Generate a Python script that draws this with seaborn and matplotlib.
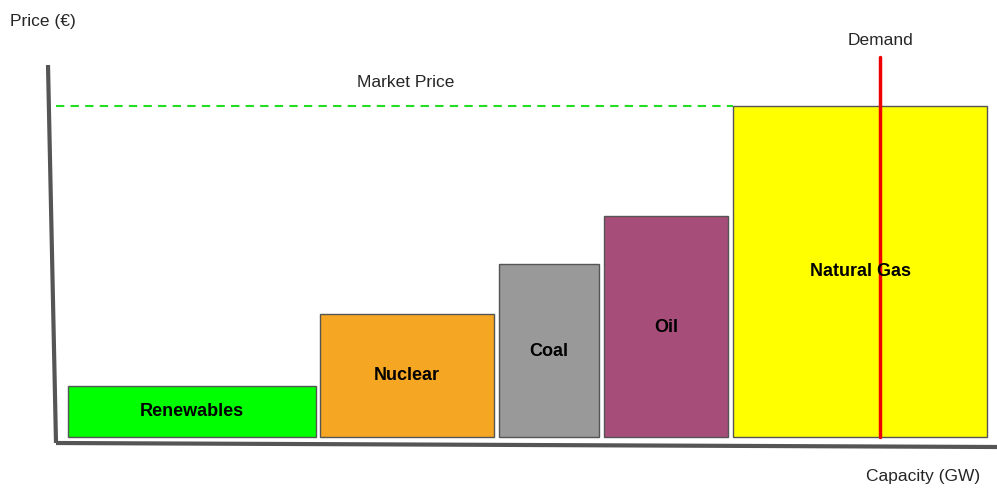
import matplotlib
matplotlib.use("Agg")
import matplotlib.pyplot as plt
import seaborn as sns

# merit order data (arbitrary capacity / price units)
SOURCES = ["Renewables", "Nuclear", "Coal", "Oil", "Natural Gas"]
START = [68, 320, 499, 604, 733]
WIDTH = [248, 174, 100, 124, 254]
PRICE = [51, 123, 173, 221, 331]
COLORS = ["#00ff00", "#f5a623", "#999999", "#a64d79", "#ffff00"]
LABEL_Y = [25, 61, 86, 110, 165]
MARKET_PRICE = 331
DEMAND_X = 880
DEMAND_TOP = 380

sns.set_theme(style="white")
plt.rcParams["font.family"] = ["Liberation Sans", "DejaVu Sans"]

fig = plt.figure(figsize=(9.97, 4.99), dpi=100)
ax = fig.add_axes([0, 0, 1, 1])
ax.set_xlim(0, 997)
ax.set_ylim(-62, 437)
ax.axis("off")

ax.bar(START, PRICE, width=WIDTH, align="edge", color=COLORS,
       edgecolor="#555555", linewidth=1)
for s, w, ly, name in zip(START, WIDTH, LABEL_Y, SOURCES):
    ax.text(s + w / 2, ly, name, ha="center", va="center",
            fontsize=13, fontweight="bold", color="black")

ax.plot([56, START[-1]], [MARKET_PRICE, MARKET_PRICE], color="#22dd22",
        linestyle=(0, (4, 3)), linewidth=1.5)
ax.text(406, 355, "Market Price", ha="center", va="center", fontsize=12.5)

ax.plot([DEMAND_X, DEMAND_X], [0, DEMAND_TOP], color="#ee0000", linewidth=2.5)
ax.text(DEMAND_X, 397, "Demand", ha="center", va="center", fontsize=12.5)

# hand-drawn style axes
ax.plot([48, 56], [372, -6], color="#555555", linewidth=3, solid_capstyle="butt")
ax.plot([56, 997], [-6, -10], color="#555555", linewidth=3, solid_capstyle="butt")
ax.text(10, 416, "Price (€)", ha="left", va="center", fontsize=12.5)
ax.text(980, -40, "Capacity (GW)", ha="right", va="center", fontsize=12.5)

fig.savefig("out.png", dpi=100)
